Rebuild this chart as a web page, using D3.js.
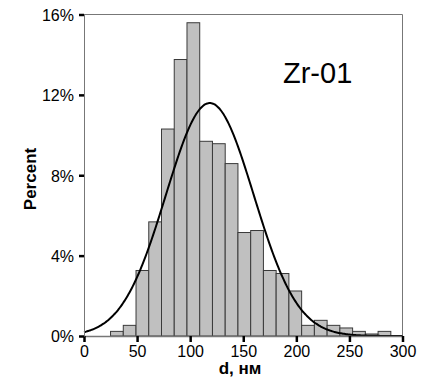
<!DOCTYPE html>
<html>
<head>
<meta charset="utf-8">
<script src="https://cdn.jsdelivr.net/npm/d3@7/dist/d3.min.js"></script>
<style>
  html, body { margin: 0; padding: 0; background: #fff; }
  svg { display: block; }
  svg text { font-family: "Liberation Sans", Arial, sans-serif; fill: #000; }
</style>
</head>
<body>
<svg id="chart" width="427" height="390"></svg>
<script>
// Histogram bins (left edge, nm) and percent of particles
const binStarts = [25, 37, 49, 61, 73, 85, 97, 109, 121, 133, 145, 157, 169, 181, 193, 205, 217, 229, 241, 253, 265, 277];
const binWidth = 12;
const percents = [0.23, 0.53, 3.26, 5.68, 10.3, 13.76, 15.59, 9.69, 9.57, 8.58, 5.15, 5.25, 3.26, 3.11, 2.24, 0.53, 0.78, 0.53, 0.40, 0.23, 0.10, 0.23];
// Fitted normal curve parameters
const fitMean = 118.5;
const fitSd = 41.3;
// Axes
const xTicks = [0, 50, 100, 150, 200, 250, 300];
const yTicks = [0, 4, 8, 12, 16];
const yTickLabels = ["0%", "4%", "8%", "12%", "16%"];
const xTitle = "d, нм";
const yTitle = "Percent";
const label = "Zr-01";

const FONT = "'Liberation Sans', Arial, sans-serif";
const svg = d3.select("#chart");
const x = d3.scaleLinear().domain([0, 300]).range([84, 402.5]);
const y = d3.scaleLinear().domain([0, 16]).range([336, 14.5]);

// frame (top and right)
svg.append("path")
  .attr("d", `M${x(0)},${y(16)}H${x(300)}V${y(0)}`)
  .attr("fill", "none").attr("stroke", "#777").attr("stroke-width", 1);

// bars
svg.append("g").selectAll("rect").data(binStarts).join("rect")
  .attr("x", (d) => x(d))
  .attr("width", (d) => x(d + binWidth) - x(d))
  .attr("y", (d, i) => y(percents[i]))
  .attr("height", (d, i) => y(0) - y(percents[i]))
  .attr("fill", "#c0c0c0")
  .attr("stroke", "#3a3a3a")
  .attr("stroke-width", 1);

// normal curve
const pts = d3.range(0, 300.5, 1).map(v => [v, 100 * binWidth / (fitSd * Math.sqrt(2 * Math.PI)) * Math.exp(-((v - fitMean) ** 2) / (2 * fitSd * fitSd))]);
svg.append("path")
  .datum(pts)
  .attr("d", d3.line().x(d => x(d[0])).y(d => y(d[1])).curve(d3.curveBasis))
  .attr("fill", "none").attr("stroke", "#000").attr("stroke-width", 2);

// x axis
const xAxis = svg.append("g").attr("transform", `translate(0,${y(0)})`)
  .call(d3.axisBottom(x).tickValues(xTicks).tickSize(6).tickSizeOuter(0).tickFormat(d3.format("d")));
xAxis.attr("font-family", FONT);
xAxis.select(".domain").attr("stroke", "#777").attr("stroke-width", 1.5);
xAxis.selectAll(".tick line").attr("stroke", "#000").attr("stroke-width", 2.5);
xAxis.selectAll(".tick text").attr("font-size", 16).attr("dy", "0.71em").attr("y", 10);

// y axis
const yAxis = svg.append("g").attr("transform", `translate(${x(0)},0)`)
  .call(d3.axisLeft(y).tickValues(yTicks).tickSize(5).tickSizeOuter(0).tickFormat((d, i) => yTickLabels[i]));
yAxis.attr("font-family", FONT);
yAxis.select(".domain").attr("stroke", "#777").attr("stroke-width", 1);
yAxis.selectAll(".tick line").attr("stroke", "#000").attr("stroke-width", 2.5);
yAxis.selectAll(".tick text").attr("font-size", 16).attr("x", -10).attr("dy", "0.36em");

// titles
svg.append("text").attr("x", 240).attr("y", 374).attr("text-anchor", "middle")
  .attr("font-size", 17).attr("font-weight", "bold").text(xTitle);
svg.append("text").attr("transform", "translate(36,179) rotate(-90)").attr("text-anchor", "middle")
  .attr("font-size", 17).attr("font-weight", "bold").text(yTitle);
svg.append("text").attr("x", 283).attr("y", 83).attr("font-size", 29).text(label);
</script>
</body>
</html>
